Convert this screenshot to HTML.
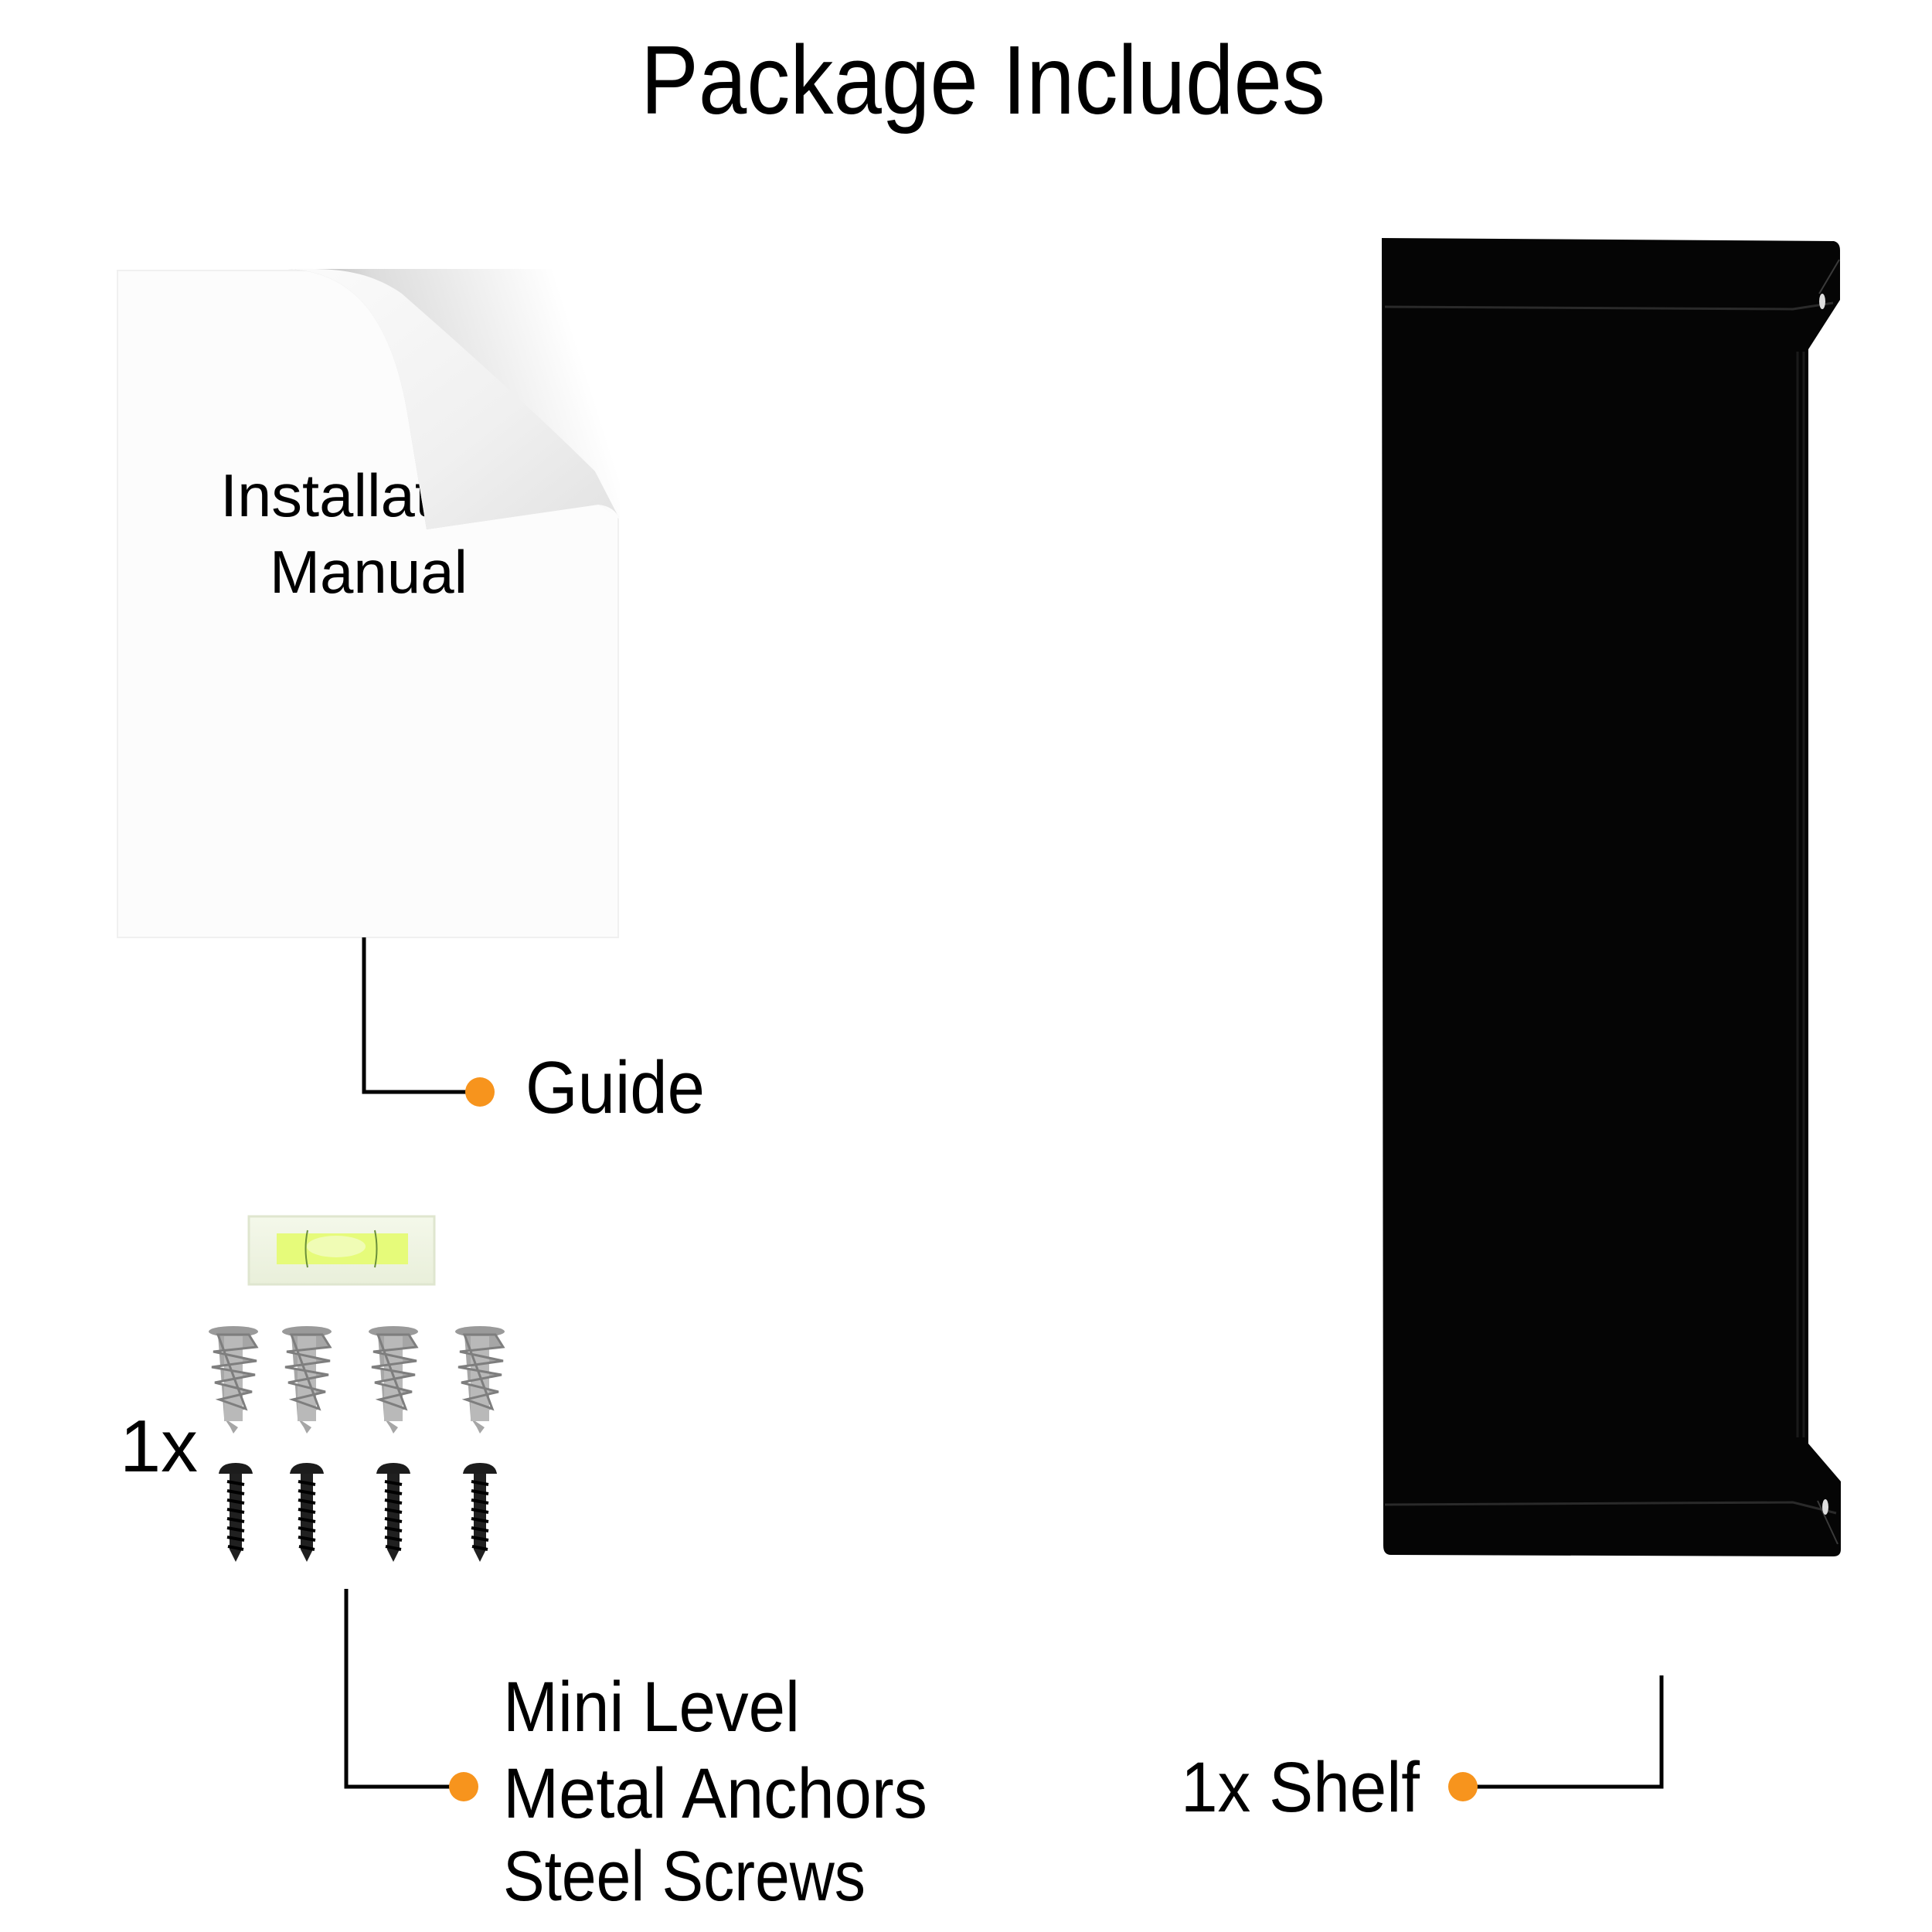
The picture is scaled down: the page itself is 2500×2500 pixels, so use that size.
<!DOCTYPE html>
<html><head><meta charset="utf-8"><style>
html,body{margin:0;padding:0;background:#fff;}
svg{display:block;}
text{font-family:"Liberation Sans",sans-serif;fill:#000;}
</style></head><body>
<svg width="2500" height="2500" viewBox="0 0 2500 2500" xmlns="http://www.w3.org/2000/svg">
<defs>
<linearGradient id="sh" x1="0" y1="0.2" x2="0.8" y2="0">
<stop offset="0" stop-color="#a9a9a9"/><stop offset="0.35" stop-color="#dcdcdc"/><stop offset="1" stop-color="#ffffff"/>
</linearGradient>
<linearGradient id="fl" x1="0" y1="0" x2="1" y2="1">
<stop offset="0" stop-color="#fbfbfb"/><stop offset="0.6" stop-color="#f0f0f0"/><stop offset="1" stop-color="#e2e2e2"/>
</linearGradient>
<linearGradient id="lv" x1="0" y1="0" x2="0" y2="1">
<stop offset="0" stop-color="#f4f8ea"/><stop offset="1" stop-color="#e9efda"/>
</linearGradient>
<g id="anchor">
<ellipse cx="0" cy="6" rx="32" ry="7" fill="#9a9a9a"/>
<polygon points="-20,10 20,10 30,26 -26,32 30,44 -28,52 28,62 -24,72 24,84 -18,94 16,106 -12,118 6,130 0,138 -4,130 -12,118" fill="#a6a6a6"/>
<rect x="-12" y="12" width="24" height="110" fill="#b9b9b9"/>
<polygon points="-20,10 20,10 30,26 -26,32 30,44 -28,52 28,62 -24,72 24,84 -18,94 16,106" fill="none" stroke="#7e7e7e" stroke-width="3"/>
</g>
<g id="screw">
<path d="M-22,14 Q-20,0 0,0 Q20,0 22,14 Z" fill="#1c1c1c"/>
<polygon points="-8,14 8,14 8,112 0,128 -8,112" fill="#202020"/>
<path d="M-11,24 L11,28 M-11,36 L11,40 M-11,48 L11,52 M-11,60 L11,64 M-11,72 L11,76 M-11,84 L11,88 M-11,96 L11,100 M-10,108 L10,112" stroke="#000" stroke-width="4"/>
</g>
</defs>

<text x="1272" y="147" font-size="126" text-anchor="middle" textLength="886" lengthAdjust="spacingAndGlyphs">Package Includes</text>

<!-- manual -->
<rect x="152" y="350" width="648" height="863" fill="#fcfcfc" stroke="#f0f0f0" stroke-width="2"/>
<text x="285" y="668" font-size="78" textLength="380" lengthAdjust="spacingAndGlyphs">Installation</text>
<text x="349" y="767" font-size="78" textLength="256" lengthAdjust="spacingAndGlyphs">Manual</text>
<path d="M373,348 L802,348 L802,672 L774,653 L552,685 L528,540 C505,400 450,352 373,348 Z" fill="url(#sh)"/>
<path d="M373,348 C450,352 505,400 528,540 L552,685 L774,653 Q795,655 802,672 L770,610 C700,540 600,450 520,380 C470,345 420,348 373,348 Z" fill="url(#fl)"/>

<!-- guide connector -->
<polyline points="471,1213 471,1413 621,1413" fill="none" stroke="#000" stroke-width="5"/>
<circle cx="621" cy="1413" r="19" fill="#f7941d"/>
<text x="680" y="1440" font-size="96" textLength="232" lengthAdjust="spacingAndGlyphs">Guide</text>

<!-- level -->
<rect x="322" y="1574" width="240" height="88" fill="url(#lv)" stroke="#dfe6cf" stroke-width="3"/>
<rect x="358" y="1596" width="170" height="40" fill="#e6fb7a"/>
<ellipse cx="435" cy="1613" rx="38" ry="14" fill="#f2fcc4" opacity="0.8"/>
<path d="M398,1592 Q393,1616 398,1640 M485,1592 Q490,1616 485,1640" stroke="#6a8f3a" stroke-width="2" fill="none"/>

<!-- anchors -->
<use href="#anchor" x="302" y="1717"/>
<use href="#anchor" x="397" y="1717"/>
<use href="#anchor" x="509" y="1717"/>
<use href="#anchor" x="621" y="1717"/>
<!-- screws -->
<use href="#screw" x="305" y="1893"/>
<use href="#screw" x="397" y="1893"/>
<use href="#screw" x="509" y="1893"/>
<use href="#screw" x="621" y="1893"/>

<text x="155" y="1904" font-size="96" textLength="101" lengthAdjust="spacingAndGlyphs">1x</text>

<polyline points="448,2056 448,2312 600,2312" fill="none" stroke="#000" stroke-width="5"/>
<circle cx="600" cy="2312" r="19" fill="#f7941d"/>
<text x="651" y="2240" font-size="92" textLength="384" lengthAdjust="spacingAndGlyphs">Mini Level</text>
<text x="651" y="2352" font-size="92" textLength="549" lengthAdjust="spacingAndGlyphs">Metal Anchors</text>
<text x="651" y="2459" font-size="92" textLength="469" lengthAdjust="spacingAndGlyphs">Steel Screws</text>

<!-- shelf -->
<path d="M1788,308 L2373,312 Q2381,314 2381,324 L2381,388 L2340,452 L2340,1868 L2382,1917 L2382,2005 Q2382,2014 2372,2014 L1800,2012 Q1790,2012 1790,2000 Z" fill="#050505"/>
<path d="M1792,397 L2320,400 L2372,392 M1792,1947 L2320,1944 L2376,1958" stroke="#2a2a2a" stroke-width="3" fill="none"/>
<path d="M2326,455 L2326,1860 M2334,455 L2334,1860" stroke="#1a1a1a" stroke-width="3"/>
<path d="M2354,380 L2380,336 M2352,1942 L2378,1998" stroke="#3a3a3a" stroke-width="2"/>
<ellipse cx="2358" cy="390" rx="4" ry="10" fill="#ddd"/>
<ellipse cx="2362" cy="1950" rx="4" ry="10" fill="#ddd"/>

<polyline points="2150,2168 2150,2312 1893,2312" fill="none" stroke="#000" stroke-width="5"/>
<circle cx="1893" cy="2312" r="19" fill="#f7941d"/>
<text x="1528" y="2344" font-size="92" textLength="309" lengthAdjust="spacingAndGlyphs">1x Shelf</text>
</svg>
</body></html>
